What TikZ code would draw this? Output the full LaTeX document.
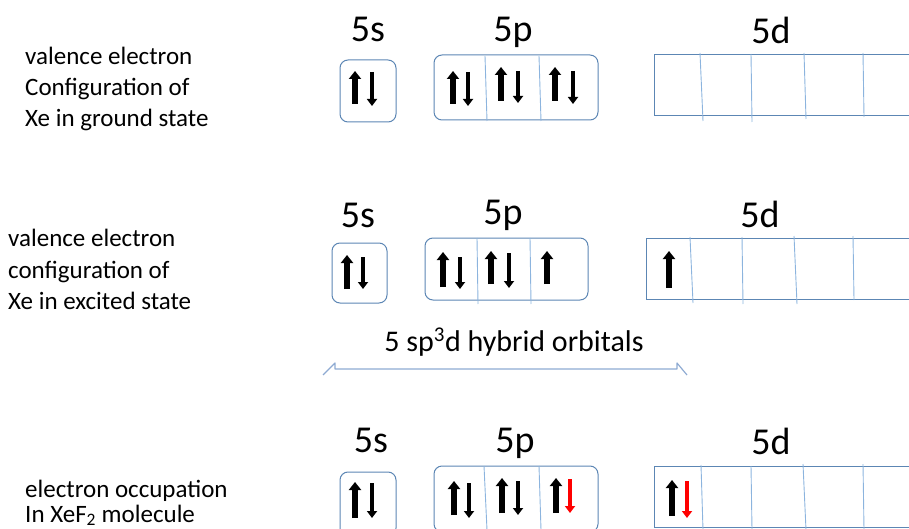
\documentclass[tikz,border=0pt]{standalone}
\usepackage{fontspec}
\setmainfont{Carlito}
\usetikzlibrary{arrows.meta}
\definecolor{boxc}{RGB}{92,134,180}
\definecolor{divc}{RGB}{140,180,222}
\definecolor{brc}{RGB}{142,170,210}
\tikzset{
  obox/.style={draw=boxc,line width=1pt,rounded corners=8pt,inner sep=0pt},
  dbox/.style={draw=boxc,line width=1pt,inner sep=0pt},
  divline/.style={draw=divc,line width=0.9pt},
  upe/.style={line width=5.5pt,-{Triangle[width=12pt,length=8pt]}},
  dne/.style={line width=3.8pt,-{Triangle[width=10pt,length=7pt]}},
  lbl/.style={anchor=base west,inner sep=0pt,font=\fontsize{25}{31}\selectfont},
  orb/.style={anchor=base,inner sep=0pt,font=\fontsize{38}{44}\selectfont},
}
\begin{document}
\begin{tikzpicture}[x=1pt,y=-1pt]
\useasboundingbox (0,0) rectangle (909,529);
\clip (0,0) rectangle (909,529);
% ---------- Row 1 ----------
\node[lbl] (l1a) at (25,65) {valence electron};
\node[lbl] (l1b) at (25,96) {Configuration of};
\node[lbl] (l1c) at (25,127) {Xe in ground state};
\node[orb] (t1s) at (368,42) {5s};
\node[orb] (t1p) at (513,42) {5p};
\node[orb] (t1d) at (771,44) {5d};
\node[obox,minimum width=56pt,minimum height=62pt] (s1) at (368,91) {};
\node[obox,minimum width=164pt,minimum height=65pt] (p1) at (516,87.5) {};
\node[dbox,minimum width=310pt,minimum height=61pt] (d1) at (809,85.5) {};
\draw[divline] (485,56) -- (487,121);
\draw[divline] (539,56) -- (541,121);
\draw[divline] (700,53) -- (703,121);
\draw[divline] (751,54) -- (752,122);
\draw[divline] (804,53) -- (806,119);
\draw[divline] (863,53) -- (864,117);
\draw[upe] (355,104) -- (355,71);
\draw[dne] (372,72) -- (372,106);
\draw[upe] (453,104) -- (453,71);
\draw[dne] (468,72) -- (468,106);
\draw[upe] (501,101) -- (501,67);
\draw[dne] (518,71) -- (518,103);
\draw[upe] (555,101) -- (555,67);
\draw[dne] (573,71) -- (573,104);
% ---------- Row 2 ----------
\node[lbl] (l2a) at (8,247) {valence electron};
\node[lbl] (l2b) at (8,278) {configuration of};
\node[lbl] (l2c) at (8,309) {Xe in excited state};
\node[orb] (t2s) at (358,227) {5s};
\node[orb] (t2p) at (503,225) {5p};
\node[orb] (t2d) at (760,227) {5d};
\node[obox,minimum width=55pt,minimum height=60pt] (s2) at (359.5,273) {};
\node[obox,minimum width=163pt,minimum height=62pt] (p2) at (506.5,269) {};
\node[dbox,minimum width=310pt,minimum height=61pt] (d2) at (801,268.5) {};
\draw[divline] (477,238) -- (478,304);
\draw[divline] (530,238) -- (531,304);
\draw[divline] (690,237) -- (693,303);
\draw[divline] (742,237) -- (743,304);
\draw[divline] (794,236) -- (797,304);
\draw[divline] (853,236) -- (854,300);
\draw[upe] (347,289) -- (347,255);
\draw[dne] (363,257) -- (363,289);
\draw[upe] (443,287) -- (443,252);
\draw[dne] (460,257) -- (460,289);
\draw[upe] (491,284) -- (491,251);
\draw[dne] (509,253) -- (509,288);
\draw[upe] (547,284) -- (547,251);
\draw[upe] (669,288) -- (669,251);
% ---------- hybrid bracket ----------
\node[anchor=base,inner sep=0pt,font=\fontsize{30}{35}\selectfont] (hyb) at (514,351) {5 sp\textsuperscript{3}d hybrid orbitals};
\coordinate (bl) at (323,375);
\coordinate (br) at (687,375);
\draw[brc,line width=1.2pt,line join=round] (bl) -- (335,363) -- (335,369) -- (677,369) -- (677,363) -- (br);
% ---------- Row 3 ----------
\node[lbl] (l3a) at (25,497) {electron occupation};
\node[lbl] (l3b) at (25,522) {In XeF\textsubscript{2} molecule};
\node[orb] (t3s) at (371,452) {5s};
\node[orb] (t3p) at (515,452) {5p};
\node[orb] (t3d) at (771,454) {5d};
\node[obox,minimum width=56pt,minimum height=64pt] (s3) at (368,504) {};
\node[obox,minimum width=164pt,minimum height=66pt] (p3) at (516,499) {};
\node[dbox,minimum width=310pt,minimum height=61pt] (d3) at (809,496.5) {};
\draw[divline] (484,466) -- (487,530);
\draw[divline] (539,466) -- (541,530);
\draw[divline] (701,465) -- (703,530);
\draw[divline] (751,466) -- (752,530);
\draw[divline] (803,464) -- (806,530);
\draw[divline] (863,464) -- (864,530);
\draw[upe] (355,518) -- (355,482);
\draw[dne] (372,483) -- (372,518);
\draw[upe] (454,515) -- (454,481);
\draw[dne] (469,483) -- (469,518);
\draw[upe] (502,513) -- (502,478);
\draw[dne] (518,481) -- (518,515);
\draw[upe] (556,513) -- (556,478);
\draw[dne,red] (570,479) -- (570,513);
\draw[upe] (672,516) -- (672,480);
\draw[dne,red,line width=4.2pt] (687,481) -- (687,518);
\end{tikzpicture}
\end{document}
